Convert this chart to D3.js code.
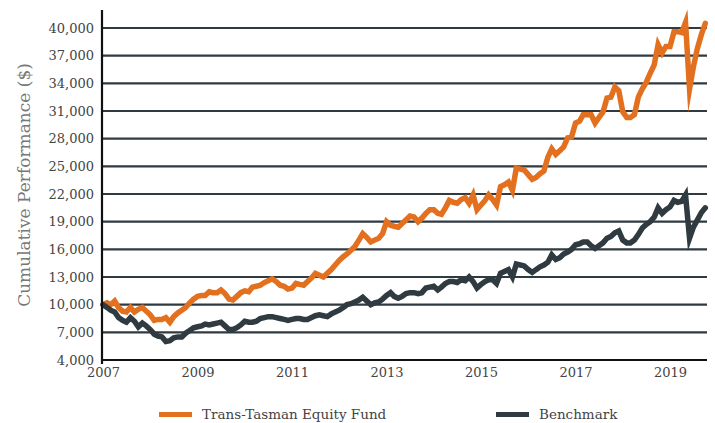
<!DOCTYPE html>
<meta charset="utf-8">
<html lang="en">
<head>
    <meta charset="UTF-8">
    <title>D3</title>
    <script src="https://d3js.org/d3.v7.min.js"></script>
    <style>
        body { margin: 0; background: #fff; }
        text { font-family: "DejaVu Serif", serif; }
    </style>
</head>
<body>
    <div id="viz"></div>
    <script>
        // monthly values, Jan 2007 .. Oct 2019
        const startYear = 2007;
        const fund = [
            10000, 10200, 10000, 10400, 9700, 9300, 9200, 9700, 9200, 9500, 9700, 9300,
            8900, 8300, 8400, 8400, 8600, 8100, 8700, 9100, 9400, 9700, 10200, 10600,
            10900, 11000, 11000, 11400, 11300, 11300, 11600, 11200, 10600, 10500, 10900, 11300,
            11500, 11400, 11900, 12000, 12100, 12400, 12600, 12800, 12500, 12100, 12000, 11700,
            11800, 12300, 12200, 12100, 12500, 12900, 13400, 13200, 13000, 13400, 13800, 14300,
            14800, 15200, 15500, 15900, 16300, 17000, 17700, 17300, 16800, 17000, 17200, 17700,
            19000, 18600, 18500, 18400, 18800, 19200, 19600, 19500, 19000, 19400, 19900, 20300,
            20300, 19900, 19800, 20500, 21300, 21100, 21000, 21400, 21600, 21000, 21900, 20300,
            20800, 21300, 21900, 21400, 20800, 22800, 23000, 23300, 22400, 24800, 24700, 24600,
            24100, 23600, 23800, 24200, 24500, 26000, 26900, 26300, 26700, 27100, 28100, 28200,
            29700, 29900, 30600, 30600, 30600, 29700, 30300, 30900, 32400, 32500, 33600, 33200,
            30900, 30300, 30300, 30600, 32500, 33400, 34100, 35100, 36000, 38200, 37300, 38000,
            38000, 39600, 39600, 39500, 40600, 33400, 35800, 37800, 39300, 40500
        ];
        const benchmark = [
            10000, 9700, 9400, 9200, 8600, 8300, 8100, 8600, 8200, 7600, 8000, 7700,
            7300, 6800, 6600, 6500, 6000, 6100, 6400, 6500, 6500, 6900, 7200, 7500,
            7600, 7700, 7900, 7800, 7900, 8000, 8100, 7700, 7300, 7300, 7500, 7800,
            8200, 8100, 8100, 8200, 8500, 8600, 8700, 8700, 8600, 8500, 8400, 8300,
            8400, 8500, 8500, 8400, 8400, 8600, 8800, 8900, 8800, 8700, 9000, 9200,
            9400, 9700, 10000, 10100, 10300, 10500, 10800, 10400, 10000, 10200, 10300, 10600,
            11000, 11300, 10900, 10700, 10900, 11200, 11300, 11300, 11200, 11300, 11800, 11900,
            12000, 11600, 11900, 12300, 12500, 12500, 12400, 12700, 12600, 13000, 12500, 11800,
            12200, 12500, 12700, 12700, 12300, 13400, 13600, 13800, 13000, 14400, 14300, 14200,
            13800, 13500, 13800, 14100, 14300, 14600, 15400, 14900, 15100, 15500, 15700, 16000,
            16500, 16600, 16800, 16800, 16400, 16100, 16400, 16700, 17200, 17400, 17800, 18000,
            17000, 16700, 16700, 17000, 17600, 18300, 18700, 19000, 19500, 20500, 19900, 20300,
            20600, 21300, 21100, 21200, 21900, 17200, 18400, 19200, 20000, 20500
        ];
        const yTicks = [4000, 7000, 10000, 13000, 16000, 19000, 22000, 25000, 28000, 31000, 34000, 37000, 40000];
        const xTicks = [2007, 2009, 2011, 2013, 2015, 2017, 2019];
        const seriesNames = ["Trans-Tasman Equity Fund", "Benchmark"];
        const colors = ["#e2701f", "#2f3a41"];

        const W = 715, H = 423;
        const margin = {left: 102, right: 707, top: 10, bottom: 360};

        const svg = d3.select("#viz")
            .append("svg")
                .attr("width", W)
                .attr("height", H);

        const x = d3.scaleTime()
            .domain([new Date(2007, 0, 1), new Date(2019, 0, 1)])
            .range([103, 670]);
        const y = d3.scaleLinear()
            .domain([4000, 40000])
            .range([margin.bottom, 28]);

        const toPoints = arr => arr.map((v, i) => ({ date: new Date(startYear, i, 1), value: v }));

        // gridlines
        svg.append("g")
            .selectAll("line")
            .data(yTicks.slice(1))
            .join("line")
                .attr("x1", margin.left)
                .attr("x2", margin.right)
                .attr("y1", d => y(d))
                .attr("y2", d => y(d))
                .attr("stroke", "#2f3a41")
                .attr("stroke-width", 2.2);

        // y axis labels
        const yAxis = svg.append("g")
            .attr("transform", `translate(${margin.left},0)`)
            .call(d3.axisLeft(y).tickValues(yTicks).tickSize(0).tickPadding(8).tickFormat(d3.format(",")));
        yAxis.select(".domain").remove();
        yAxis.selectAll("text")
            .attr("font-family", "DejaVu Serif")
            .attr("font-size", 13)
            .attr("fill", "#444");

        // x axis labels
        const xAxis = svg.append("g")
            .attr("transform", `translate(0,${margin.bottom})`)
            .call(d3.axisBottom(x).tickValues(xTicks.map(t => new Date(t, 0, 1))).tickSize(0).tickPadding(8).tickFormat(d3.timeFormat("%Y")));
        xAxis.select(".domain").remove();
        xAxis.selectAll("text")
            .attr("font-family", "DejaVu Serif")
            .attr("font-size", 13)
            .attr("fill", "#444");

        // lines
        const line = d3.line()
            .x(d => x(d.date))
            .y(d => y(d.value));

        [fund, benchmark].forEach((s, i) => {
            svg.append("path")
                .datum(toPoints(s))
                .attr("fill", "none")
                .attr("stroke", colors[i])
                .attr("stroke-width", 5.5)
                .attr("stroke-linejoin", "miter")
                .attr("stroke-miterlimit", 12)
                .attr("stroke-linecap", "round")
                .attr("d", line);
        });

        // axis lines
        svg.append("line")
            .attr("x1", margin.left).attr("x2", margin.left)
            .attr("y1", margin.top).attr("y2", margin.bottom + 4)
            .attr("stroke", "#111").attr("stroke-width", 2.2);
        svg.append("line")
            .attr("x1", margin.left - 1).attr("x2", margin.right)
            .attr("y1", margin.bottom).attr("y2", margin.bottom)
            .attr("stroke", "#111").attr("stroke-width", 2.2);

        // y title
        svg.append("text")
            .attr("transform", `translate(30,${(margin.top + margin.bottom) / 2}) rotate(-90)`)
            .attr("text-anchor", "middle")
            .attr("font-size", 17)
            .attr("fill", "#777")
            .text("Cumulative Performance ($)");

        // legend
        const legendX = [159, 496];
        const legend = svg.append("g")
            .selectAll("g")
            .data(seriesNames)
            .join("g")
                .attr("transform", (d, i) => `translate(${legendX[i]},414)`);
        legend.append("rect")
            .attr("x", 0).attr("y", -2)
            .attr("width", 33).attr("height", 5)
            .attr("fill", (d, i) => colors[i]);
        legend.append("text")
            .attr("x", 43).attr("y", 5)
            .attr("font-size", 13.5)
            .attr("fill", "#444")
            .text(d => d);
    </script>
</body>
</html>
